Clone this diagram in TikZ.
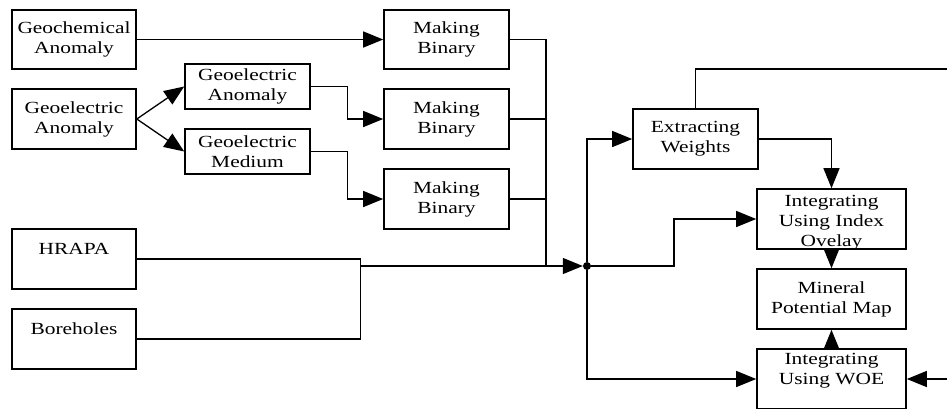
\documentclass[tikz,border=0pt]{standalone}
\usepackage{fontspec}
\setmainfont{Liberation Serif}[FakeStretch=1.26]
\usetikzlibrary{arrows.meta}
\newcommand{\stage}[5]{%
 \node[stagebox,minimum width={#3},minimum height={#4}] ({#1}) at ({#2}) {#5};%
}

\begin{document}
\begin{tikzpicture}[x=1pt,y=-1pt,
  stagebox/.style={draw,line width=1.6pt,inner sep=0pt,align=center,
    font=\fontsize{17}{20}\selectfont},
  link/.style={line width=1.3pt},
  arr/.style={link,-{Triangle[length=20pt,width=16pt]}}]
  \useasboundingbox (0,0) rectangle (947,408);
  \stage{geochem}{74,39.5}{124pt}{59pt}{Geochemical\\Anomaly};
  \stage{geoelec}{74,119}{124pt}{60pt}{Geoelectric\\Anomaly};
  \stage{elecanom}{247.5,86.5}{125pt}{45pt}{Geoelectric\\Anomaly};
  \stage{elecmed}{247.5,151.5}{125pt}{45pt}{Geoelectric\\Medium};
  \stage{hrapa}{74,259}{124pt}{60pt}{HRAPA\\\mbox{}};
  \stage{bore}{74,339}{124pt}{60pt}{Boreholes\\\mbox{}};
  \stage{bin1}{446.5,39.5}{125pt}{59pt}{Making\\Binary};
  \stage{bin2}{446.5,119}{125pt}{60pt}{Making\\Binary};
  \stage{bin3}{446.5,199}{125pt}{60pt}{Making\\Binary};
  \stage{weights}{695.5,139}{125pt}{60pt}{Extracting\\Weights};
  \stage{index}{831.5,219}{149pt}{60pt}{\rule{0pt}{15pt}Integrating\\Using Index\\\smash{Ovelay}};
  \stage{mineral}{831.5,299}{149pt}{60pt}{Mineral\\Potential Map};
  \stage{woe}{831.5,379}{149pt}{60pt}{Integrating\\Using WOE\\\mbox{}};
  \node[circle,fill,inner sep=0pt,minimum size=8pt] (dot) at (587,266) {};
  \coordinate (bus) at (546,266);
  \coordinate (join) at (360,266);
  \coordinate (back) at (960,69);
  % inputs
  \draw[arr] (geochem.east) -- (bin1.west);
  \draw[arr] (geoelec.east) -- (elecanom.west);
  \draw[arr] (geoelec.east) -- (elecmed.west);
  \draw[arr] (elecanom.east) -- ++(37,0) |- (bin2.west);
  \draw[arr] (elecmed.east) -- ++(37,0) |- (bin3.west);
  \draw[link] (bin1.east) -| (bus);
  \draw[link] (bin2.east) -- (bin2.east -| bus);
  \draw[link] (bin3.east) -- (bin3.east -| bus);
  \draw[link] (hrapa.east) -- ++(224,0) |- (bore.east);
  \draw[arr] (join) -- (bus) -- (dot);
  % weights and integration
  \draw[arr] (dot) |- (weights.west);
  \draw[arr] (dot) -- ++(87,0) |- (index.west);
  \draw[arr] (dot) |- (woe.west);
  \draw[arr] (weights.east) -| (index.north);
  \draw[arr] (index.south) -- (mineral.north);
  \draw[arr] (woe.north) -- (mineral.south);
  \draw[arr] (weights.north) |- (back) |- (woe.east);
\end{tikzpicture}
\end{document}
